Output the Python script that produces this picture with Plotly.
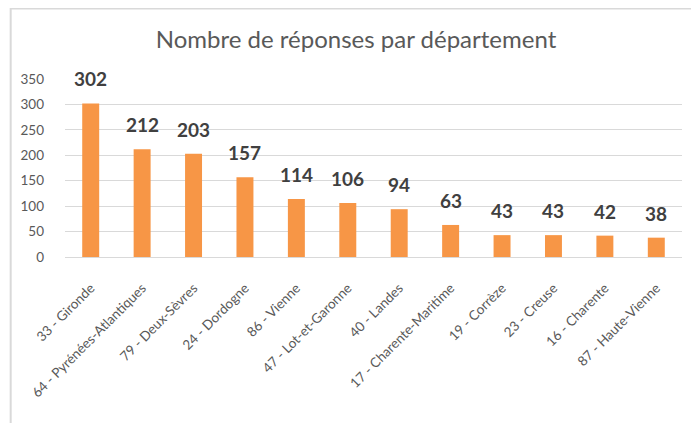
import plotly.graph_objects as go

departements = [
    "33 - Gironde", "64 - Pyrénées-Atlantiques", "79 - Deux-Sèvres", "24 - Dordogne",
    "86 - Vienne", "47 - Lot-et-Garonne", "40 - Landes", "17 - Charente-Maritime",
    "19 - Corrèze", "23 - Creuse", "16 - Charente", "87 - Haute-Vienne",
]
reponses = [302, 212, 203, 157, 114, 106, 94, 63, 43, 43, 42, 38]
y_ticks = [0, 50, 100, 150, 200, 250, 300, 350]

# page body has an 8px margin, so the figure is sized to fit the window
W, H = 691, 415
ML, MR, MT, MB = 55, 17, 71, 166
PW, PH = W - ML - MR, H - MT - MB

fig = go.Figure()
fig.add_trace(go.Bar(
    x=departements, y=reponses,
    marker=dict(color="#F79646", line=dict(width=0)),
    width=0.33,
    hoverinfo="x+y",
))

for d, v in zip(departements, reponses):
    fig.add_annotation(
        x=d, y=v, text=f"<b>{v}</b>", showarrow=False,
        yanchor="bottom", yshift=11,
        font=dict(family="Lato", size=19, color="#404040"),
    )

def px2x(p):
    return (p - ML) / PW

def px2y(p):
    return (H - MB - p) / PH

# chart border (left and top edges visible)
fig.add_shape(type="rect", xref="paper", yref="paper",
              x0=px2x(0.5), x1=px2x(760), y0=px2y(480), y1=px2y(0.5),
              line=dict(color="#D9D9D9", width=2), fillcolor="rgba(0,0,0,0)", layer="below")

fig.update_layout(
    width=W, height=H,
    margin=dict(l=ML, r=MR, t=MT, b=MB, pad=0),
    paper_bgcolor="white", plot_bgcolor="white",
    showlegend=False,
    title=dict(text="Nombre de réponses par département",
               x=348 / W, xanchor="center", xref="container",
               y=1 - 32 / H, yanchor="middle", yref="container",
               font=dict(family="Lato", size=24, color="#595959")),
    xaxis=dict(
        tickangle=-45, showgrid=False, zeroline=False,
        showline=True, linecolor="#D9D9D9", linewidth=1,
        ticks="", tickfont=dict(family="Lato", size=13.5, color="#595959"),
        ticklabelstandoff=17,
    ),
    yaxis=dict(
        range=[0, 350], tickvals=y_ticks, showgrid=True, gridcolor="#D9D9D9", gridwidth=1,
        zeroline=False, showline=False, ticks="",
        tickfont=dict(family="Lato", size=13.5, color="#595959"),
        ticklabelstandoff=20,
    ),
)

fig.write_html("out.html")
